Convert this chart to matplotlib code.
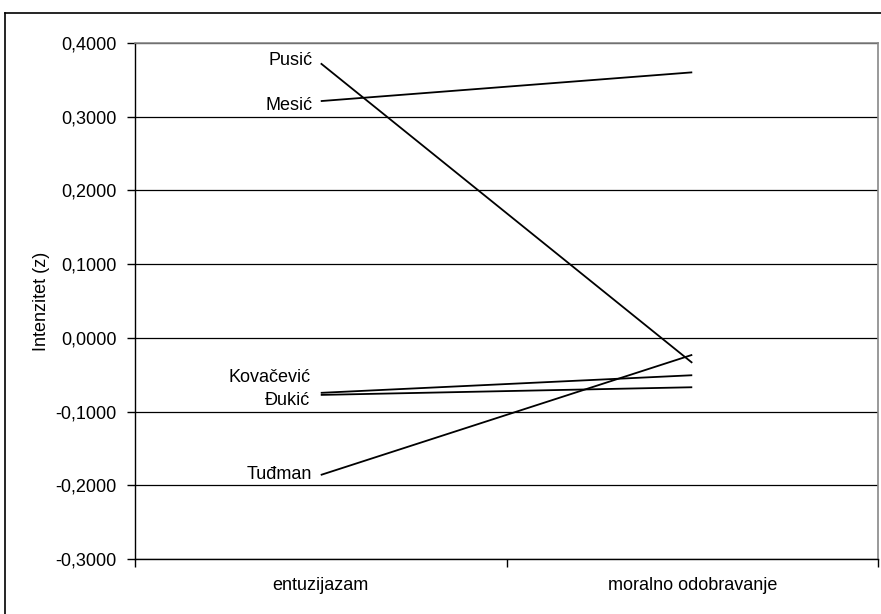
import matplotlib
matplotlib.use("Agg")
import matplotlib.pyplot as plt
from matplotlib.lines import Line2D
from matplotlib.ticker import FixedLocator, FuncFormatter

plt.rcParams['font.family'] = ['Liberation Sans', 'DejaVu Sans']

categories = ["entuzijazam", "moralno odobravanje"]
names = ["Pusić", "Mesić", "Kovačević", "Đukić", "Tuđman"]
start_values = [0.3724, 0.3212, -0.0746, -0.0774, -0.1860]
end_values = [-0.0339, 0.3602, -0.0507, -0.0670, -0.0230]
label_offsets = [(-8, 3), (-8, -4), (-10, 15), (-11, -6), (-9, 0)]
y_ticks = [-0.3, -0.2, -0.1, 0.0, 0.1, 0.2, 0.3, 0.4]

FS = 13

fig = plt.figure(figsize=(8.81, 6.14), dpi=100)
ax = fig.add_axes([135/881, 1-559/614, (878-135)/881, (559-43)/614])

x = [0, 1]
for name, s, e, off in zip(names, start_values, end_values, label_offsets):
    ax.plot(x, [s, e], color='black', lw=1.3, solid_capstyle='butt')
    ax.annotate(name, xy=(0, s), xytext=off, textcoords='offset pixels',
                ha='right', va='center', fontsize=FS)

ax.set_xlim(-0.5, 1.5)
ax.set_ylim(-0.3, 0.4)
ax.yaxis.set_major_locator(FixedLocator(y_ticks))
ax.yaxis.set_major_formatter(FuncFormatter(lambda v, p: f"{v:.4f}".replace('.', ',').replace('-0,0000', '0,0000')))
ax.grid(axis='y', color='black', lw=0.9)
ax.set_axisbelow(True)

ax.set_xticks([-0.5, 0.5, 1.5])
ax.set_xticklabels([])
ax.set_xticks([0, 1], minor=True)
ax.set_xticklabels(categories, minor=True)
ax.tick_params(axis='x', which='minor', length=0, pad=13, labelsize=FS)
ax.tick_params(axis='x', which='major', length=6, width=1, direction='out')
ax.tick_params(axis='y', length=6, width=1, direction='out', pad=7, labelsize=FS)

ax.set_ylabel("Intenzitet (z)", fontsize=FS, labelpad=4)

for sp in ['left', 'bottom']:
    ax.spines[sp].set_color('black')
    ax.spines[sp].set_linewidth(1)
for sp in ['top', 'right']:
    ax.spines[sp].set_color('#888888')
    ax.spines[sp].set_linewidth(1.2)

fig.add_artist(Line2D([5/881, 5/881], [0, 1-13/614], transform=fig.transFigure, color='black', lw=1.2))
fig.add_artist(Line2D([5/881, 1], [1-13/614, 1-13/614], transform=fig.transFigure, color='black', lw=1.2))

fig.savefig("out.png", dpi=100)
